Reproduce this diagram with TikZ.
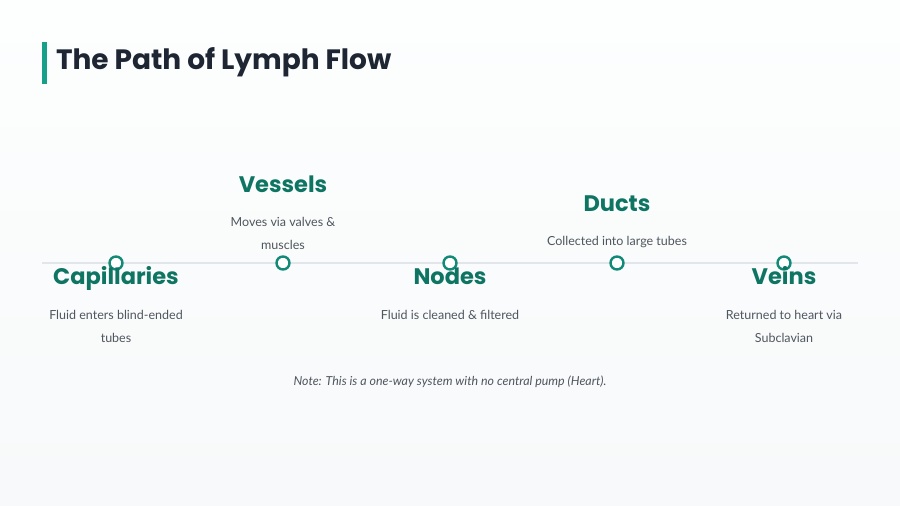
\documentclass[tikz,border=0pt]{standalone}
\usepackage{fontspec}
\setmainfont{Lato}
\newfontfamily\headfont{Poppins}[UprightFont=* Bold]
\usepackage{xcolor}
\definecolor{Paper}{HTML}{F7F9FA}
\definecolor{PaperTop}{HTML}{FDFEFE}
\definecolor{TitleInk}{HTML}{1E2533}
\definecolor{Accent}{HTML}{16A08A}
\definecolor{StepInk}{HTML}{0E7563}
\definecolor{Ring}{HTML}{138A77}
\definecolor{BodyInk}{HTML}{50565E}
\definecolor{Rail}{HTML}{E2E6EA}

\begin{document}
\begin{tikzpicture}[x=1pt,y=-1pt,
  every node/.style={inner sep=0pt,outer sep=0pt},
  stephead/.style={anchor=base,text=StepInk,font=\headfont\fontsize{22.5}{27}\selectfont},
  stepnote/.style={anchor=base,text=BodyInk,align=center,font=\fontsize{12.5}{23}\selectfont},
  ring/.style={circle,draw=Ring,line width=2.4pt,fill=white,minimum size=13pt}]
\useasboundingbox (0,0) rectangle (900,506);
\shade[top color=PaperTop,bottom color=Paper] (0,0) rectangle (900,506);
% title
\fill[Accent] (42,42) rectangle (46.5,84);
\node[anchor=base west,text=TitleInk,font=\headfont\fontsize{28}{34}\selectfont] (title) at (56,69) {The Path of Lymph Flow};
% timeline
\coordinate (railL) at (42,263);
\coordinate (railR) at (858,263);
\draw[Rail,line width=2.6pt] (railL)--(railR);
\node[ring] (cap) at (116,263) {};
\node[ring] (ves) at (283,263) {};
\node[ring] (nod) at (450,263) {};
\node[ring] (duc) at (617,263) {};
\node[ring] (vei) at (784,263) {};
% steps (two-line notes sit on their last baseline)
\node[stephead] (capH) at (116,284) {Capillaries};
\node[stepnote] (capT) at (116,342) {Fluid enters blind-ended\\tubes};
\node[stephead] (vesH) at (283,192) {Vessels};
\node[stepnote] (vesT) at (283,249) {Moves via valves \&\\muscles};
\node[stephead] (nodH) at (450,284) {Nodes};
\node[stepnote] (nodT) at (450,319) {Fluid is cleaned \& filtered};
\node[stephead] (ducH) at (617,211) {Ducts};
\node[stepnote] (ducT) at (617,245) {Collected into large tubes};
\node[stephead] (veiH) at (784,284) {Veins};
\node[stepnote] (veiT) at (784,342) {Returned to heart via\\Subclavian};
% footnote
\node[anchor=base,text=BodyInk,font=\itshape\fontsize{12.4}{15}\selectfont] (note) at (450,385) {Note: This is a one-way system with no central pump (Heart).};
\end{tikzpicture}
\end{document}
